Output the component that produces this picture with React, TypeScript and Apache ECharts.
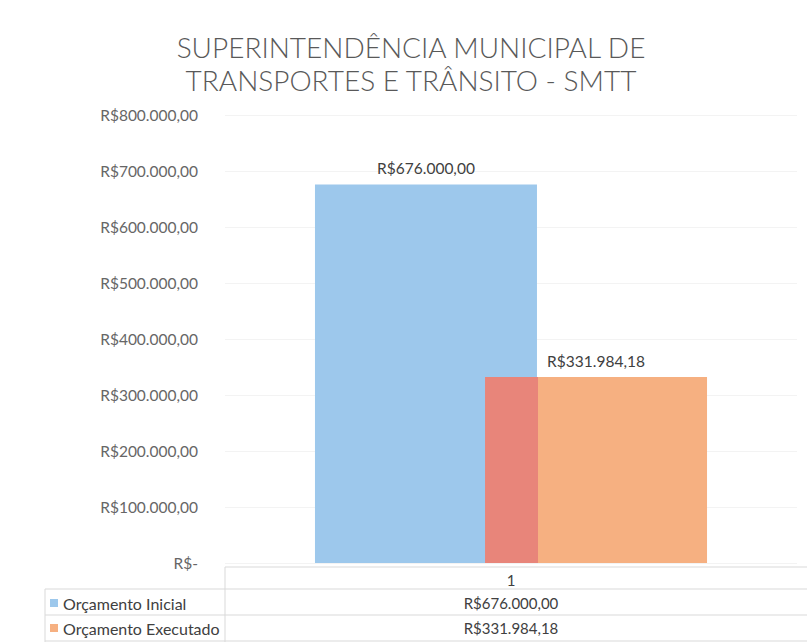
import React, { useEffect, useRef } from "react";
import * as echarts from "echarts";

const titleLines = ["SUPERINTENDÊNCIA MUNICIPAL DE", "TRANSPORTES E TRÂNSITO - SMTT"];
const categories = ["1"];
const seriesNames = ["Orçamento Inicial", "Orçamento Executado"];
const orcamentoInicial = [676000.0];
const orcamentoExecutado = [331984.18];
const seriesColors = ["#9DC8EC", "#F6B081"];
const overlapColor = "#E8857A";
const yMax = 800000;
const yInterval = 100000;

const FONT = "Lato, 'Open Sans', sans-serif";

function brl(v: number): string {
  if (v === 0) return "R$-";
  const fixed = v.toFixed(2);
  const [intPart, dec] = fixed.split(".");
  const withDots = intPart.replace(/\B(?=(\d{3})+(?!\d))/g, ".");
  return "R$" + withDots + "," + dec;
}

export default function App() {
  const ref = useRef<HTMLDivElement>(null);
  useEffect(() => {
    if (!ref.current) return;
    const chart = echarts.init(ref.current, undefined, { renderer: "svg" });
    const gridLeft = 225;
    const gridTop = 115;
    const gridBottom = 79;
    const H = 642;
    const W = 807;
    const lineColor = "#D9D9D9";
    const rowY = [603, 628];
    const allSeries = [orcamentoInicial, orcamentoExecutado];

    const tableGraphics: any[] = [
      { type: "line", shape: { x1: gridLeft, y1: 567, x2: W, y2: 567 }, style: { stroke: lineColor, lineWidth: 1 } },
      { type: "line", shape: { x1: 45, y1: 589, x2: W, y2: 589 }, style: { stroke: lineColor, lineWidth: 1 } },
      { type: "line", shape: { x1: 45, y1: 615, x2: W, y2: 615 }, style: { stroke: lineColor, lineWidth: 1 } },
      { type: "line", shape: { x1: 45, y1: 641, x2: W, y2: 641 }, style: { stroke: lineColor, lineWidth: 1 } },
      { type: "line", shape: { x1: gridLeft, y1: 567, x2: gridLeft, y2: H }, style: { stroke: lineColor, lineWidth: 1 } },
      { type: "line", shape: { x1: 45, y1: 589, x2: 45, y2: H }, style: { stroke: lineColor, lineWidth: 1 } },
    ];
    seriesNames.forEach((name, i) => {
      tableGraphics.push({
        type: "rect",
        shape: { x: 50, y: rowY[i] - 4, width: 8, height: 8 },
        style: { fill: seriesColors[i] },
      });
      tableGraphics.push({
        type: "text",
        x: 63,
        y: rowY[i],
        style: { text: name, fill: "#404040", font: `16px ${FONT}`, textVerticalAlign: "middle" },
      });
      tableGraphics.push({
        type: "text",
        x: 511,
        y: rowY[i],
        style: { text: brl(allSeries[i][0]), fill: "#404040", font: `15px ${FONT}`, textAlign: "center", textVerticalAlign: "middle" },
      });
    });

    const overlapFrac = 0.24;
    const labelCfg = {
      show: true,
      position: "top",
      distance: 8,
      formatter: (p: any) => brl(p.value),
      fontFamily: FONT,
      fontSize: 15.5,
      color: "#404040",
    };
    chart.setOption({
      animation: false,
      backgroundColor: "#FFFFFF",
      title: {
        text: titleLines.join("\n"),
        left: 406,
        textAlign: "center",
        top: 25,
        textStyle: { fontFamily: FONT, fontWeight: 300, fontSize: 28, color: "#595959", lineHeight: 33 },
      },
      grid: { left: gridLeft, right: 10, top: gridTop, bottom: gridBottom, containLabel: false },
      xAxis: {
        type: "category",
        data: categories,
        axisLine: { show: false },
        axisTick: { show: false },
        axisLabel: { margin: 9, fontFamily: FONT, fontSize: 15, color: "#404040" },
      },
      yAxis: {
        type: "value",
        min: 0,
        max: yMax,
        interval: yInterval,
        axisLine: { show: false },
        axisTick: { show: false },
        splitLine: { lineStyle: { color: "#F3F3F3" } },
        axisLabel: {
          margin: 27,
          fontFamily: FONT,
          fontSize: 15.5,
          color: "#666666",
          formatter: (v: number) => brl(v),
        },
      },
      series: [
        {
          name: seriesNames[0],
          type: "bar",
          data: orcamentoInicial,
          barWidth: 222,
          barGap: "-23.4%",
          itemStyle: { color: seriesColors[0] },
          label: labelCfg,
        },
        {
          name: seriesNames[1],
          type: "bar",
          data: orcamentoExecutado,
          barWidth: 222,
          barGap: "-23.4%",
          itemStyle: {
            color: {
              type: "linear",
              x: 0,
              y: 0,
              x2: 1,
              y2: 0,
              colorStops: [
                { offset: 0, color: overlapColor },
                { offset: overlapFrac, color: overlapColor },
                { offset: overlapFrac, color: seriesColors[1] },
                { offset: 1, color: seriesColors[1] },
              ],
            },
          },
          label: labelCfg,
        },
      ],
      graphic: tableGraphics,
    });
    return () => chart.dispose();
  }, []);
  return (
    <div
      ref={ref}
      style={{ position: "fixed", left: 0, top: 0, width: 807, height: 642, background: "#fff" }}
    />
  );
}
